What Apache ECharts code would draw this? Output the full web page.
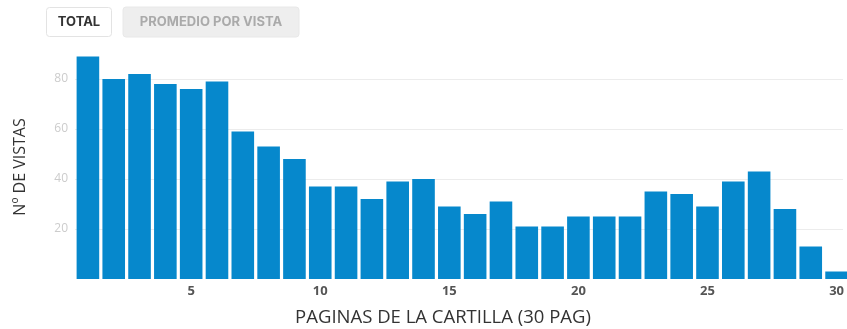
<!DOCTYPE html>
<html>
<head>
<meta charset="utf-8">
<script src="https://cdn.jsdelivr.net/npm/echarts@6/dist/echarts.min.js"></script>
<style>
  html, body { margin: 0; padding: 0; background: #ffffff; }
  #chart { width: 847px; height: 329px; }
</style>
</head>
<body>
<div id="chart"></div>
<script>
const pages = [1, 2, 3, 4, 5, 6, 7, 8, 9, 10,
               11, 12, 13, 14, 15, 16, 17, 18, 19, 20,
               21, 22, 23, 24, 25, 26, 27, 28, 29, 30];
const views = [89, 80, 82, 78, 76, 79, 59, 53, 48, 37,
               37, 32, 39, 40, 29, 26, 31, 21, 21, 25,
               25, 25, 35, 34, 29, 39, 43, 28, 13, 3];
const yTicks = [20, 40, 60, 80];
const xTicks = [5, 10, 15, 20, 25, 30];
const yAxisTitle = 'Nº DE VISTAS';
const xAxisTitle = 'PAGINAS DE LA CARTILLA (30 PAG)';
const buttons = ['TOTAL', 'PROMEDIO POR VISTA'];

const chart = echarts.init(document.getElementById('chart'), null, {renderer: 'canvas'});
chart.setOption({
  animation: false,
  backgroundColor: '#ffffff',
  grid: { left: 75, top: 54, right: 0, height: 225, containLabel: false },
  xAxis: {
    type: 'value',
    min: 0.5,
    max: 30.25,
    axisLine: { show: false },
    axisTick: { show: false },
    splitLine: { show: false },
    axisLabel: {
      customValues: xTicks,
      color: '#555555',
      fontFamily: 'Open Sans',
      fontWeight: 'bold',
      fontSize: 13,
      margin: 6
    }
  },
  yAxis: {
    type: 'value',
    min: 0,
    max: 90,
    interval: 20,
    axisLine: { show: false },
    axisTick: { show: false },
    axisLabel: {
      formatter: v => yTicks.includes(v) ? String(v) : '',
      color: '#cccccc',
      fontFamily: 'Open Sans',
      fontSize: 12,
      margin: 7,
      showMaxLabel: false
    },
    splitLine: { show: true, showMinLine: false, showMaxLine: false, lineStyle: { color: '#ececec', width: 1 } }
  },
  series: [{
    type: 'bar',
    data: pages.map((p, i) => [p, views[i]]),
    barWidth: 22.6,
    itemStyle: { color: '#0688cc' }
  }],
  graphic: [
    { type: 'rect', shape: { x: 46.5, y: 7.5, width: 65, height: 29, r: 3 },
      style: { fill: '#ffffff', stroke: '#e3e3e3', lineWidth: 1 } },
    { type: 'text', x: 79, y: 22,
      style: { text: buttons[0], fill: '#333333', font: 'bold 13px Inter', align: 'center', verticalAlign: 'middle' } },
    { type: 'rect', shape: { x: 123, y: 7, width: 176, height: 30, r: 3 },
      style: { fill: '#eeeeee', stroke: '#e8e8e8', lineWidth: 1 } },
    { type: 'text', x: 211, y: 22,
      style: { text: buttons[1], fill: '#aaaaaa', font: 'bold 13px Inter', align: 'center', verticalAlign: 'middle' } },
    { type: 'text', x: 20, y: 167, rotation: Math.PI / 2,
      style: { text: yAxisTitle, fill: '#333333', font: '16px "Open Sans"', align: 'center', verticalAlign: 'middle' } },
    { type: 'text', x: 443, y: 318,
      style: { text: xAxisTitle, fill: '#333333', font: '18.5px "Open Sans"', align: 'center', verticalAlign: 'middle' } }
  ]
});
</script>
</body>
</html>
